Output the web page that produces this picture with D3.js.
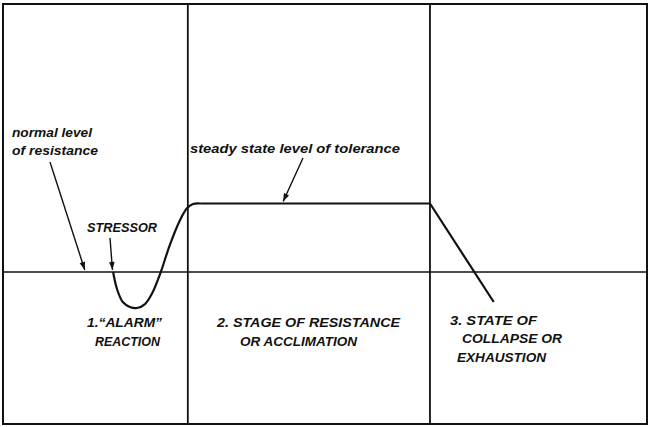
<!DOCTYPE html>
<html>
<head>
<meta charset="utf-8">
<script src="https://cdn.jsdelivr.net/npm/d3@7"></script>
<style>
  html, body { margin: 0; padding: 0; background: #fff; }
  svg { display: block; }
  text { font-family: "Liberation Sans", Arial, sans-serif; font-style: italic; font-weight: bold; fill: #111; }
</style>
</head>
<body>
<svg id="chart" width="650" height="427"></svg>
<script>
// ---- data ----
// alarm reaction curve (time units, resistance level; normal = 100)
const alarmTime  = [17.1, 17.7, 18.6, 19.7, 20.8, 22.05, 23.1, 24.5, 25.9, 27.5, 28.6, 29.5, 30.6];
const alarmLevel = [100, 87.6, 78.1, 74.5, 73.7, 76.6, 83.9, 100, 119.7, 138, 146.7, 149.6, 150];
// resistance plateau and collapse
const plateauTime  = [30.6, 66.3, 76.2];
const plateauLevel = [150, 150, 78.1];
// normal level of resistance
const normalLevel = 100;
// stage boundaries
const stageBounds = [28.7, 66.3];
// labels
const noteLines = {
  normal: ["normal level", "of resistance"],
  stressor: ["STRESSOR"],
  steady: ["steady state level of tolerance"]
};
const stageLabels = [
  ["1.\u201CALARM\u201D", "REACTION"],
  ["2. STAGE OF RESISTANCE", "OR ACCLIMATION"],
  ["3. STATE OF", "COLLAPSE OR", "EXHAUSTION"]
];

// ---- layout ----
const svg = d3.select("#chart");
const x = d3.scaleLinear().domain([0, 100]).range([3, 647]);
const y = d3.scaleLinear().domain([0, 200]).range([409, 135]);
const ink = "#111";

// defs: arrowhead
svg.append("defs").append("marker")
  .attr("id", "arr").attr("viewBox", "0 0 10 10")
  .attr("refX", 10).attr("refY", 5)
  .attr("markerWidth", 10).attr("markerHeight", 8)
  .attr("markerUnits", "userSpaceOnUse")
  .attr("orient", "auto")
  .append("path").attr("d", "M0,1.5 L10,5 L0,8.5 Z").attr("fill", ink);

// frame
svg.append("rect").attr("x", 3).attr("y", 4).attr("width", 644).attr("height", 420)
  .attr("fill", "none").attr("stroke", ink).attr("stroke-width", 2);

// stage dividers
svg.selectAll("line.stage").data(stageBounds).enter().append("line")
  .attr("class", "stage")
  .attr("x1", d => x(d)).attr("x2", d => x(d))
  .attr("y1", 4).attr("y2", 424)
  .attr("stroke", ink).attr("stroke-width", 1.8);

// normal level line
svg.append("line")
  .attr("x1", x(0)).attr("x2", x(100))
  .attr("y1", y(normalLevel)).attr("y2", y(normalLevel))
  .attr("stroke", ink).attr("stroke-width", 1.4);

// alarm curve
const alarmPts = alarmTime.map((t, i) => [t, alarmLevel[i]]);
svg.append("path")
  .attr("d", d3.line().x(d => x(d[0])).y(d => y(d[1])).curve(d3.curveCatmullRom)(alarmPts))
  .attr("fill", "none").attr("stroke", ink).attr("stroke-width", 2.2);

// plateau + collapse
const platPts = plateauTime.map((t, i) => [t, plateauLevel[i]]);
svg.append("path")
  .attr("d", d3.line().x(d => x(d[0])).y(d => y(d[1])).curve(d3.curveLinear)(platPts))
  .attr("fill", "none").attr("stroke", ink).attr("stroke-width", 2.2)
  .attr("stroke-linejoin", "round");

// annotation arrows (start in pixels, end at data points)
function arrow(x1, y1, t, lvl) {
  svg.append("line")
    .attr("x1", x1).attr("y1", y1)
    .attr("x2", x(t)).attr("y2", y(lvl) - 2)
    .attr("stroke", ink).attr("stroke-width", 1.4)
    .attr("marker-end", "url(#arr)");
}
arrow(50, 162, 12.7, normalLevel);
arrow(110, 238, 17.0, normalLevel);
arrow(303, 158, 43.5, 150);

// text helper
function label(lines, x0s, ys, widths, size) {
  lines.forEach((s, i) => {
    svg.append("text")
      .attr("x", x0s[i]).attr("y", ys[i])
      .attr("font-size", size)
      .attr("textLength", widths[i]).attr("lengthAdjust", "spacingAndGlyphs")
      .text(s);
  });
}
label(noteLines.normal, [12, 12], [137, 155], [80, 86], 12);
label(noteLines.stressor, [87], [232], [70], 13.5);
label(noteLines.steady, [190], [153], [210], 12);
label(stageLabels[0], [87, 95], [327, 346], [75, 65], 13.5);
label(stageLabels[1], [217, 240], [327, 346], [183, 117], 13.5);
label(stageLabels[2], [450, 462, 457], [325, 343, 362], [87, 100, 89], 13.5);
</script>
</body>
</html>
